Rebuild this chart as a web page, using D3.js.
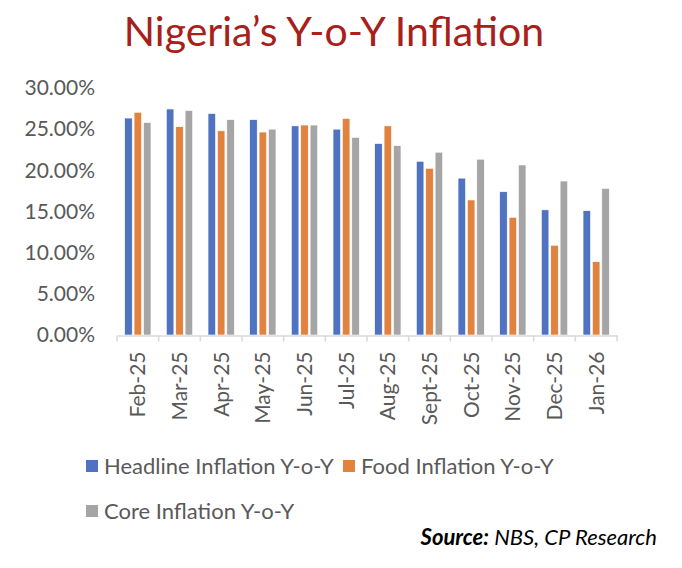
<!DOCTYPE html>
<html>
<head>
<meta charset="utf-8">
<script src="https://cdn.jsdelivr.net/npm/d3@7"></script>
<style>
  html, body { margin: 0; padding: 0; background: #fff; }
  #chart { width: 682px; height: 568px; }
</style>
</head>
<body>
<div id="chart"></div>
<script>
// Data
const months = ['Feb-25', 'Mar-25', 'Apr-25', 'May-25', 'Jun-25', 'Jul-25', 'Aug-25', 'Sept-25', 'Oct-25', 'Nov-25', 'Dec-25', 'Jan-26'];
const headline = [26.35, 27.45, 26.9, 26.15, 25.4, 25.0, 23.25, 21.1, 19.05, 17.4, 15.2, 15.1];
const food = [27.05, 25.3, 24.8, 24.65, 25.5, 26.3, 25.4, 20.25, 16.4, 14.3, 10.9, 8.9];
const core = [25.8, 27.25, 26.15, 25.0, 25.5, 24.0, 23.0, 22.2, 21.35, 20.65, 18.7, 17.8];
const seriesNames = ['Headline Inflation Y-o-Y', 'Food Inflation Y-o-Y', 'Core Inflation Y-o-Y'];
const yTicks = [0, 5, 10, 15, 20, 25, 30];

const colors = ['#4F72C1', '#E1823F', '#A5A5A5'];
const seriesVals = [headline, food, core];

const W = 682, H = 568;
const svg = d3.select('#chart').append('svg')
  .attr('width', W).attr('height', H);

const font = 'Lato, "Open Sans", sans-serif';

// Title
svg.append('text')
  .attr('x', 334).attr('y', 46)
  .attr('text-anchor', 'middle')
  .attr('font-family', font)
  .attr('font-size', 41)
  .attr('fill', '#A8201A')
  .text('Nigeria\u2019s Y-o-Y Inflation');

// Scales
const x0 = d3.scaleBand().domain(months).range([117, 617]);
const bw = x0.bandwidth();
const x1 = d3.scaleBand().domain(d3.range(3)).range([bw * 0.185, bw * 0.815]).paddingInner(0.2);
const y = d3.scaleLinear().domain([0, 30]).range([335, 88]);

// Y axis labels
const yAxis = svg.append('g')
  .attr('transform', 'translate(95,0)')
  .call(d3.axisLeft(y).tickValues(yTicks).tickSize(0).tickPadding(0).tickFormat(d => d.toFixed(2) + '%'));
yAxis.select('.domain').remove();
yAxis.selectAll('text')
  .attr('font-family', font)
  .attr('font-size', 21)
  .attr('fill', '#595959');

// Bars
const groups = svg.append('g').selectAll('g')
  .data(months)
  .join('g')
  .attr('transform', d => `translate(${x0(d)},0)`);

groups.selectAll('rect')
  .data((m, i) => seriesVals.map((s, k) => ({ k, v: s[i] })))
  .join('rect')
  .attr('x', d => x1(d.k))
  .attr('y', d => y(d.v))
  .attr('width', x1.bandwidth())
  .attr('height', d => y(0) - y(d.v))
  .attr('fill', d => colors[d.k])
  .attr('stroke', '#fff')
  .attr('stroke-width', 0.6);

// X axis
const xAxis = svg.append('g')
  .attr('transform', 'translate(0,335.5)')
  .call(d3.axisBottom(x0).tickSize(0).tickPadding(0));
xAxis.select('.domain').attr('stroke', '#D9D9D9').attr('stroke-width', 1.5);
// tick marks between categories
xAxis.selectAll('.sep')
  .data(months.concat(['end']))
  .join('line')
  .attr('class', 'sep')
  .attr('x1', (d, i) => i < months.length ? x0(d) : x0(months[months.length - 1]) + bw)
  .attr('x2', (d, i) => i < months.length ? x0(d) : x0(months[months.length - 1]) + bw)
  .attr('y1', 0).attr('y2', 6)
  .attr('stroke', '#D9D9D9').attr('stroke-width', 1.5);
xAxis.selectAll('.tick text')
  .attr('transform', 'rotate(-90)')
  .attr('text-anchor', 'end')
  .attr('x', -16).attr('y', 0).attr('dy', '0.35em')
  .attr('font-family', font)
  .attr('font-size', 21)
  .attr('fill', '#595959');

// Legend
const legendItems = [
  { k: 0, x: 86, y: 466 },
  { k: 1, x: 343, y: 466 },
  { k: 2, x: 86, y: 511 }
];
const leg = svg.append('g').selectAll('g')
  .data(legendItems)
  .join('g')
  .attr('transform', d => `translate(${d.x},${d.y})`);
leg.append('rect')
  .attr('x', 0).attr('y', -6)
  .attr('width', 12).attr('height', 12)
  .attr('fill', d => colors[d.k]);
leg.append('text')
  .attr('x', 18).attr('y', 0).attr('dy', '0.35em')
  .attr('font-family', font)
  .attr('font-size', 22)
  .attr('fill', '#595959')
  .text(d => seriesNames[d.k]);

// Source
const src = svg.append('text')
  .attr('x', 657).attr('y', 545)
  .attr('text-anchor', 'end')
  .attr('font-family', font)
  .attr('font-size', 22)
  .attr('font-style', 'italic')
  .attr('fill', '#000');
src.append('tspan').attr('font-weight', 'bold').text('Source:');
src.append('tspan').text(' NBS, CP Research');
</script>
</body>
</html>
